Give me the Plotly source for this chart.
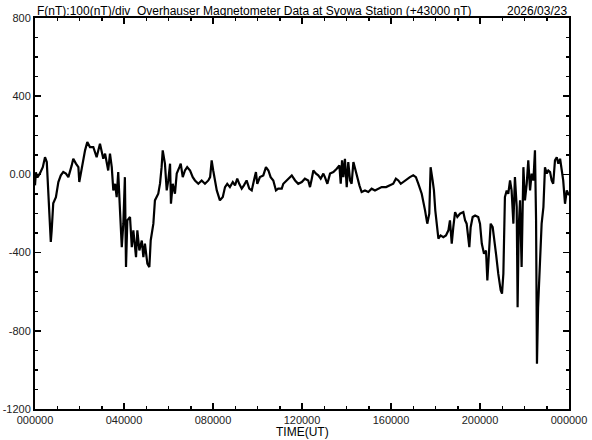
import plotly.graph_objects as go

# Time in hours (UT), total field deviation in nT (relative to +43000 nT)
time_h = [0.00, 0.04, 0.11, 0.22, 0.35, 0.45, 0.53, 0.60, 0.67, 0.71, 0.75, 0.82, 0.94, 1.05, 1.16, 1.27, 1.39, 1.50,
          1.65, 1.72, 1.84, 1.95, 1.99, 2.10, 2.17, 2.25, 2.35, 2.47, 2.62, 2.77, 2.92, 3.00, 3.07, 3.15, 3.29, 3.37,
          3.45, 3.52, 3.60, 3.67, 3.74, 3.82, 3.90, 3.97, 4.04, 4.09, 4.15, 4.27, 4.35, 4.42, 4.54, 4.60, 4.69, 4.80,
          4.87, 4.94, 5.05, 5.14, 5.20, 5.32, 5.39, 5.54, 5.62, 5.69, 5.74, 5.84, 5.92, 5.99, 6.07, 6.11, 6.19, 6.29,
          6.37, 6.49, 6.55, 6.64, 6.74, 6.84, 6.97, 7.09, 7.19, 7.34, 7.49, 7.64, 7.79, 7.87, 7.94, 8.01, 8.09, 8.17,
          8.31, 8.44, 8.54, 8.64, 8.76, 8.89, 8.99, 9.09, 9.18, 9.29, 9.39, 9.51, 9.63, 9.74, 9.84, 9.93, 9.99, 10.11,
          10.26, 10.38, 10.49, 10.59, 10.71, 10.83, 10.93, 11.09, 11.16, 11.31, 11.54, 11.69, 11.83, 11.99, 12.13,
          12.28, 12.36, 12.44, 12.51, 12.63, 12.73, 12.84, 12.96, 13.03, 13.14, 13.26, 13.41, 13.56, 13.68, 13.74,
          13.80, 13.86, 13.93, 14.01, 14.08, 14.16, 14.23, 14.31, 14.38, 14.46, 14.58, 14.68, 14.83, 14.98, 15.13,
          15.28, 15.43, 15.58, 15.78, 15.96, 16.10, 16.22, 16.33, 16.44, 16.55, 16.71, 16.85, 17.00, 17.12, 17.23,
          17.38, 17.53, 17.63, 17.72, 17.78, 17.87, 17.93, 17.99, 18.05, 18.13, 18.23, 18.35, 18.47, 18.58, 18.65,
          18.73, 18.80, 18.88, 18.98, 19.10, 19.25, 19.33, 19.40, 19.52, 19.58, 19.67, 19.78, 19.92, 20.00, 20.08,
          20.18, 20.27, 20.33, 20.42, 20.48, 20.57, 20.63, 20.72, 20.82, 20.93, 20.99, 21.05, 21.12, 21.20, 21.27,
          21.35, 21.42, 21.50, 21.57, 21.65, 21.69, 21.74, 21.80, 21.87, 21.95, 22.02, 22.10, 22.17, 22.25, 22.32,
          22.40, 22.47, 22.52, 22.56, 22.61, 22.70, 22.77, 22.85, 22.92, 23.00, 23.07, 23.15, 23.22, 23.29, 23.37,
          23.45, 23.52, 23.60, 23.67, 23.74, 23.82, 23.90, 24.00]

field_nt = [-56, 10, -15, 5, 37, 88, 63, -82, -270, -346, -286, -148, -116, -39, -5, 12, 4, -14,
            46, 80, 55, 37, -39, 37, 80, 123, 165, 140, 140, 88, 157, 123, 80, 106, 20, 106,
            37, -82, -48, -116, 12, -184, -372, -252, -14, -474, -235, -218, -372, -286, -423, -286, -389, -338,
            -423, -354, -457, -474, -338, -252, -133, -99, -46, 37, 123, 55, -82, -31, 55, -150, -48, -99,
            4, 37, 55, -14, 20, 37, 20, -14, -31, -48, -31, -48, -31, -14, 72, 20, -31, -82,
            -133, -116, -65, -48, -65, -39, -56, -22, -48, -73, -56, -31, -73, -82, -31, 12, -48, -14,
            -5, 37, 20, -14, -31, -82, -73, -73, -48, -31, -5, -31, -48, -39, -22,
            -31, -65, -22, 20, 4, -5, -22, 4, -14, -48, 4, 12, 29, 46, -48,
            72, -14, 80, -65, 63, -31, -48, 63, 29, -14, -56, -90, -82, -90, -73,
            -82, -73, -65, -65, -56, -48, -22, -31, -48, -39, -22, -14, -5, -14, -48,
            -99, -184, -252, -201, 37, -31, -82, -184, -252, -329, -312, -321, -312, -286, -235,
            -354, -270, -193, -218, -201, -193, -235, -252, -372, -270, -218, -210, -218, -252, -354,
            -406, -389, -542, -338, -252, -270, -338, -406, -508, -593, -610, -508, -116, -82, -99,
            -31, -82, -252, -14, -167, -679, -270, -133, -474, 37, -133, -48, 72, -82, 4,
            -31, 123, -235, -968, -679, -440, -252, -167, 37, 4, 20, 12, -31, -48, 72,
            88, 55, 80, 20, -31, -150, -82, -107]

y_ticks = [800, 400, 0, -400, -800, -1200]
y_tick_labels = ["800", "400", "0.00", "-400", "-800", "-1200"]
x_ticks = [0, 4, 8, 12, 16, 20, 24]
x_tick_labels = ["000000", "040000", "080000", "120000", "160000", "200000", "000000"]

title_left = "F(nT):100(nT)/div  Overhauser Magnetometer Data at Syowa Station (+43000 nT)"
title_date = "2026/03/23"

FONT = "Liberation Sans"

fig = go.Figure()
fig.add_trace(go.Scatter(x=time_h, y=field_nt, mode="lines",
                         line=dict(color="black", width=2.2), hoverinfo="skip"))

fig.update_layout(
    width=592, height=440,
    margin=dict(l=35, r=23, t=18, b=31),
    paper_bgcolor="white", plot_bgcolor="white",
    showlegend=False,
    font=dict(family=FONT, size=11, color="#222"),
)
fig.update_xaxes(
    range=[0, 24], tickvals=x_ticks, ticktext=x_tick_labels,
    showgrid=False, zeroline=False, automargin=False,
    showline=True, linecolor="black", linewidth=2, mirror="ticks",
    ticks="inside", ticklen=6, tickwidth=1.5, tickcolor="black",
    minor=dict(dtick=1, tick0=0, ticks="inside", ticklen=3, tickcolor="black", tickwidth=1.5, showgrid=False),
    tickfont=dict(family=FONT, size=11, color="#222"),
)
fig.update_yaxes(
    range=[-1200, 800], tickvals=y_ticks, ticktext=y_tick_labels,
    showgrid=False, zeroline=False, automargin=False,
    showline=True, linecolor="black", linewidth=2, mirror="ticks",
    ticks="inside", ticklen=6, tickwidth=1.5, tickcolor="black",
    minor=dict(dtick=100, tick0=0, ticks="inside", ticklen=3, tickcolor="black", tickwidth=1.5, showgrid=False),
    tickfont=dict(family=FONT, size=11, color="#222"),
    ticklabelstandoff=0,
)
fig.add_annotation(text=title_left, xref="paper", yref="paper", x=0, y=1, xanchor="left", yanchor="bottom",
                   showarrow=False, font=dict(family=FONT, size=12, color="black"), yshift=-2)
fig.add_annotation(text=title_date, xref="paper", yref="paper", x=1, y=1, xanchor="right", yanchor="bottom",
                   showarrow=False, font=dict(family=FONT, size=12, color="black"), yshift=-2)
fig.add_annotation(text="TIME(UT)", xref="paper", yref="paper", x=0.5, y=0, xanchor="center", yanchor="top",
                   showarrow=False, font=dict(family=FONT, size=12, color="black"), yshift=-14)

fig.write_html("out.html", config={"displayModeBar": False, "staticPlot": True},
               post_script="document.body.style.margin='0';")
